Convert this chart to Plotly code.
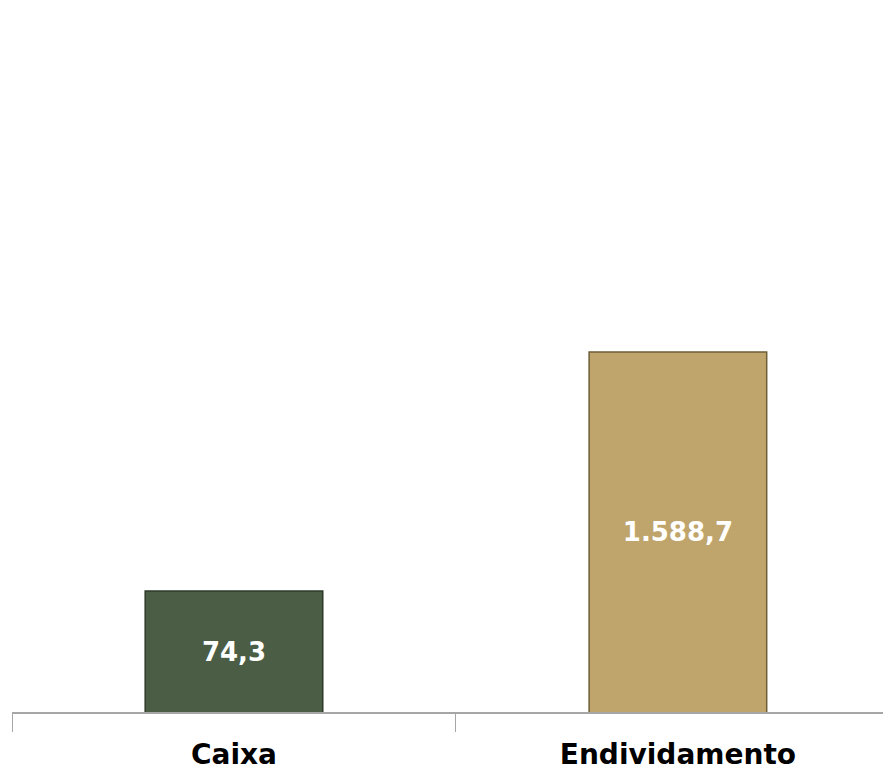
import plotly.graph_objects as go

categories = ["Caixa", "Endividamento"]
values = [74.3, 1588.7]
colors = ["#4b5e45", "#bfa56b"]
edge_colors = ["#2e3a2a", "#6e5d37"]

fig = go.Figure()

fig.add_trace(go.Bar(
    x=categories,
    y=values,
    width=0.4,
    marker=dict(color=colors, line=dict(color=edge_colors, width=1.5)),
    texttemplate="%{y:,.1f}",
    textposition="inside",
    insidetextanchor="middle",
    textfont=dict(family="DejaVu Sans", size=26, color="white", weight="bold"),
    hoverinfo="skip",
))

fig.update_layout(
    width=883,
    height=762,
    margin=dict(l=4, r=0, t=0, b=58),
    paper_bgcolor="white",
    plot_bgcolor="white",
    separators=",.",
    showlegend=False,
    xaxis=dict(
        range=[-0.5, 1.48],
        showline=True,
        linecolor="#a6a6a6",
        linewidth=1.5,
        ticks="outside",
        tickson="boundaries",
        ticklen=18,
        tickcolor="#a6a6a6",
        ticklabelstandoff=17,
        tickfont=dict(family="DejaVu Sans", size=28, color="black", weight="bold"),
        showgrid=False,
    ),
    yaxis=dict(
        type="log",
        range=[1.198, 5.116],
        visible=False,
        showgrid=False,
    ),
)

fig.write_html("out.html")
